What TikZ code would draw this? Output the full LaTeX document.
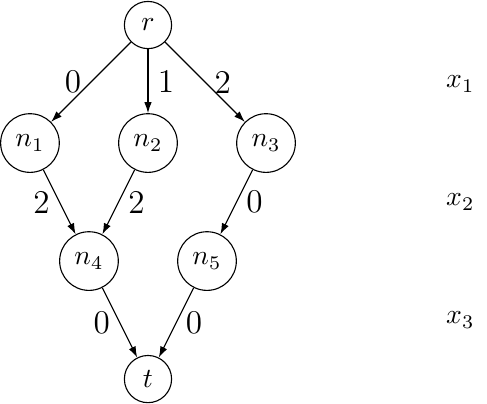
\documentclass[tikz,border=0pt]{standalone}
\usepackage{amsmath,amssymb}
\usepackage{tikz}
\usetikzlibrary{arrows.meta,positioning}

\begin{document}
\begin{tikzpicture}[
    every node/.style={font=\normalsize},
    ddNode/.style={circle, draw, minimum size=6mm},
    ddEdge/.style={-{Latex[length=1.4mm, width=0.95mm]}},
    edgeLabel/.style={font=\large}]

\useasboundingbox (-1.881, 0.318) rectangle (4.309, -4.805);

% Nodes of the diagram, one row per variable
\node[ddNode] (r) at (0, 0) {$r$};
\node[ddNode] (n1) at (-1.5, -1.5) {$n_1$};
\node[ddNode] (n2) at ( 0.0, -1.5) {$n_2$};
\node[ddNode] (n3) at ( 1.5, -1.5) {$n_3$};
\node[ddNode] (n4) at (-0.75, -3) {$n_4$};
\node[ddNode] (n5) at ( 0.75, -3) {$n_5$};
\node[ddNode] (t) at (0, -4.5) {$t$};

% Edges with their weights
\draw[ddEdge] (r) -- (n1) node[midway, left, edgeLabel] {0};
\draw[ddEdge] (r) -- (n2) node[midway, right, edgeLabel] {1};
\draw[ddEdge] (r) -- (n3) node[midway, right, edgeLabel] {2};
\draw[ddEdge] (n1) -- (n4) node[midway, left, edgeLabel] {2};
\draw[ddEdge] (n2) -- (n4) node[midway, right, edgeLabel] {2};
\draw[ddEdge] (n3) -- (n5) node[midway, right, edgeLabel] {0};
\draw[ddEdge] (n4) -- (t) node[midway, left, edgeLabel] {0};
\draw[ddEdge] (n5) -- (t) node[midway, right, edgeLabel] {0};

% Variable labels on the right
\node (x1) at (3.97, -0.75) {$x_1$};
\node (x2) at (3.97, -2.25) {$x_2$};
\node (x3) at (3.97, -3.75) {$x_3$};

\end{tikzpicture}
\end{document}
